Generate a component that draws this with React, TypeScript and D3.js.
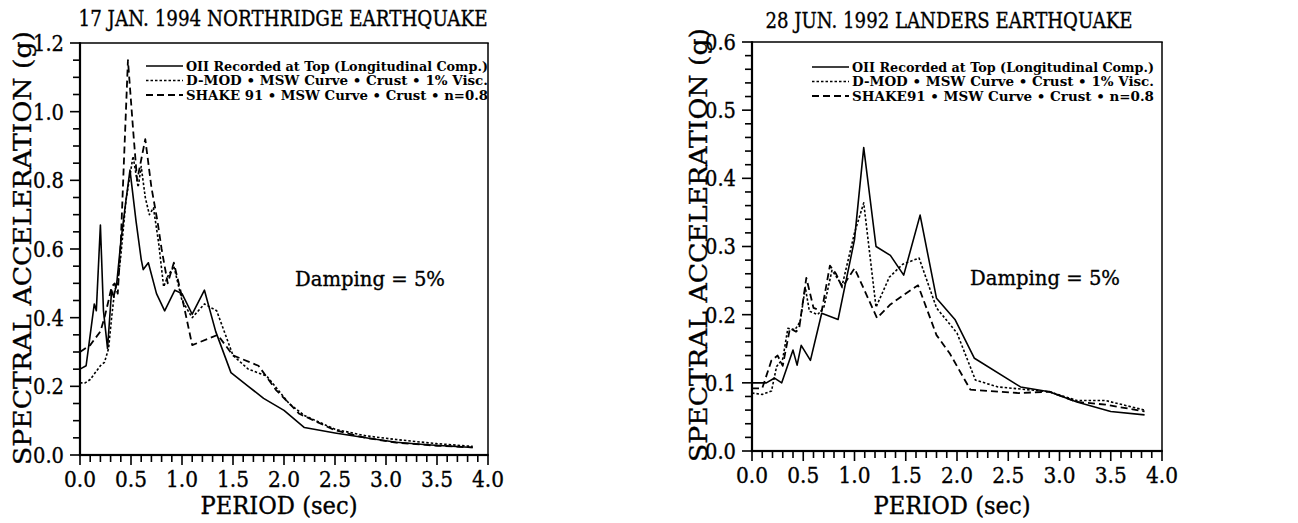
import * as d3 from 'd3';

// 17 Jan 1994 Northridge — period (sec) vs spectral acceleration (g)
const nrRecT = [0, 0.06, 0.1, 0.14, 0.16, 0.2, 0.23, 0.27, 0.31, 0.33, 0.36, 0.4, 0.45, 0.49, 0.55, 0.6, 0.62, 0.67, 0.75, 0.83, 0.93, 1.0, 1.1, 1.22, 1.33, 1.48, 1.65, 1.8, 2.0, 2.2, 2.5, 2.8, 3.1, 3.4, 3.85];
const nrRecSa = [0.25, 0.26, 0.35, 0.44, 0.42, 0.67, 0.42, 0.31, 0.48, 0.46, 0.5, 0.62, 0.74, 0.83, 0.68, 0.57, 0.54, 0.56, 0.47, 0.42, 0.48, 0.47, 0.41, 0.48, 0.36, 0.24, 0.2, 0.165, 0.13, 0.08, 0.064, 0.05, 0.037, 0.03, 0.022];

const nrDmodT = [0, 0.05, 0.1, 0.15, 0.2, 0.24, 0.28, 0.31, 0.34, 0.37, 0.4, 0.45, 0.52, 0.57, 0.6, 0.64, 0.68, 0.72, 0.77, 0.82, 0.86, 0.92, 1.0, 1.1, 1.22, 1.34, 1.5, 1.65, 1.83, 2.05, 2.2, 2.5, 2.8, 3.1, 3.5, 3.85];
const nrDmodSa = [0.21, 0.21, 0.22, 0.24, 0.26, 0.27, 0.31, 0.4, 0.48, 0.5, 0.58, 0.74, 0.87, 0.78, 0.84, 0.75, 0.7, 0.72, 0.62, 0.49, 0.52, 0.55, 0.45, 0.4, 0.44, 0.42, 0.29, 0.25, 0.23, 0.15, 0.115, 0.075, 0.056, 0.045, 0.033, 0.025];

const nrShakeT = [0, 0.05, 0.1, 0.15, 0.2, 0.24, 0.28, 0.31, 0.34, 0.37, 0.4, 0.43, 0.47, 0.52, 0.56, 0.6, 0.64, 0.7, 0.76, 0.8, 0.86, 0.92, 1.0, 1.1, 1.35, 1.5, 1.75, 1.92, 2.15, 2.5, 2.8, 3.1, 3.5, 3.85];
const nrShakeSa = [0.3, 0.31, 0.32, 0.34, 0.36, 0.4, 0.45, 0.49, 0.5, 0.47, 0.62, 0.85, 1.15, 0.95, 0.8, 0.86, 0.92, 0.78, 0.68, 0.6, 0.5, 0.56, 0.46, 0.32, 0.35, 0.29, 0.26, 0.19, 0.12, 0.072, 0.05, 0.036, 0.027, 0.022];

// 28 Jun 1992 Landers
const ldRecT = [0, 0.14, 0.22, 0.29, 0.4, 0.44, 0.48, 0.57, 0.68, 0.84, 1.0, 1.09, 1.21, 1.35, 1.48, 1.64, 1.8, 1.98, 2.17, 2.62, 2.9, 3.17, 3.5, 3.83];
const ldRecSa = [0.1, 0.1, 0.107, 0.1, 0.148, 0.126, 0.155, 0.133, 0.202, 0.193, 0.31, 0.445, 0.3, 0.287, 0.258, 0.346, 0.224, 0.193, 0.136, 0.094, 0.087, 0.072, 0.058, 0.053];

const ldDmodT = [0, 0.1, 0.19, 0.24, 0.3, 0.35, 0.42, 0.47, 0.52, 0.56, 0.64, 0.7, 0.78, 0.88, 1.0, 1.09, 1.21, 1.34, 1.47, 1.63, 1.8, 2.0, 2.18, 2.4, 2.9, 3.17, 3.45, 3.83];
const ldDmodSa = [0.085, 0.083, 0.088, 0.124, 0.135, 0.18, 0.178, 0.19, 0.24, 0.205, 0.2, 0.21, 0.265, 0.243, 0.32, 0.364, 0.211, 0.255, 0.274, 0.283, 0.21, 0.173, 0.104, 0.094, 0.087, 0.074, 0.074, 0.06];

const ldShakeT = [0, 0.1, 0.19, 0.25, 0.3, 0.37, 0.43, 0.46, 0.53, 0.6, 0.68, 0.76, 0.82, 0.88, 1.0, 1.22, 1.35, 1.49, 1.62, 1.8, 1.93, 2.13, 2.6, 2.9, 3.17, 3.45, 3.83];
const ldShakeSa = [0.092, 0.092, 0.133, 0.14, 0.125, 0.18, 0.175, 0.18, 0.254, 0.21, 0.205, 0.272, 0.26, 0.24, 0.268, 0.195, 0.215, 0.23, 0.243, 0.17, 0.143, 0.09, 0.085, 0.087, 0.072, 0.068, 0.058];

const xTicks = [0, 0.5, 1.0, 1.5, 2.0, 2.5, 3.0, 3.5, 4.0];
const nrYTicks = [0, 0.2, 0.4, 0.6, 0.8, 1.0, 1.2];
const ldYTicks = [0, 0.1, 0.2, 0.3, 0.4, 0.5, 0.6];

const nrLegend = [
  'OII Recorded at Top (Longitudinal Comp.)',
  'D-MOD \u2022 MSW Curve \u2022 Crust \u2022 1% Visc.',
  'SHAKE 91 \u2022 MSW Curve \u2022 Crust \u2022 n=0.8',
];
const ldLegend = [
  'OII Recorded at Top (Longitudinal Comp.)',
  'D-MOD \u2022 MSW Curve \u2022 Crust \u2022 1% Visc.',
  'SHAKE91 \u2022 MSW Curve \u2022 Crust \u2022 n=0.8',
];

const FONT = '"DejaVu Serif", "Liberation Serif", serif';
const dashes = ['none', '2.5,2', '7,4'];
const widths = [1.6, 1.6, 1.8];

type Panel = {
  title: string;
  titleX: number;
  titleY: number;
  titleLen: number;
  x0: number;
  x1: number;
  yTop: number;
  yBot: number;
  yMax: number;
  yTicks: number[];
  yMinor: number;
  ylabelX: number;
  ylabelY: number;
  legend: string[];
  legX: number;
  legY: number;
  dampX: number;
  dampY: number;
  series: { t: number[]; sa: number[] }[];
};

const panels: Panel[] = [
  {
    title: '17 JAN. 1994 NORTHRIDGE EARTHQUAKE',
    titleX: 283, titleY: 26, titleLen: 409,
    x0: 80, x1: 488, yTop: 43, yBot: 455, yMax: 1.2,
    yTicks: nrYTicks, yMinor: 0.05,
    ylabelX: 31, ylabelY: 248,
    legend: nrLegend, legX: 146, legY: 66,
    dampX: 295, dampY: 286,
    series: [
      { t: nrRecT, sa: nrRecSa },
      { t: nrDmodT, sa: nrDmodSa },
      { t: nrShakeT, sa: nrShakeSa },
    ],
  },
  {
    title: '28 JUN. 1992 LANDERS EARTHQUAKE',
    titleX: 949, titleY: 28, titleLen: 367,
    x0: 752, x1: 1162, yTop: 42, yBot: 451, yMax: 0.6,
    yTicks: ldYTicks, yMinor: 0.02,
    ylabelX: 707, ylabelY: 245,
    legend: ldLegend, legX: 812, legY: 67,
    dampX: 970, dampY: 285,
    series: [
      { t: ldRecT, sa: ldRecSa },
      { t: ldDmodT, sa: ldDmodSa },
      { t: ldShakeT, sa: ldShakeSa },
    ],
  },
];

// a little pen stroke on text, plotter style
const ink = { stroke: '#000', strokeWidth: 0.35 };

function Chart({ p }: { p: Panel }) {
  const x = d3.scaleLinear().domain([0, 4]).range([p.x0, p.x1]);
  const y = d3.scaleLinear().domain([0, p.yMax]).range([p.yBot, p.yTop]);
  const line = d3.line<[number, number]>().x((d) => x(d[0])).y((d) => y(d[1]));

  const xMinor = d3.range(0, 41).map((i) => i / 10);
  const nMinor = Math.round(p.yMax / p.yMinor);
  const yMinor = d3.range(0, nMinor + 1).map((i) => i * p.yMinor);
  const isMajorY = (v: number) => p.yTicks.some((t) => Math.abs(t - v) < 1e-6);

  return (
    <g fontFamily={FONT}>
      <text x={p.titleX} y={p.titleY} textAnchor="middle" fontSize={22} {...ink}
        textLength={p.titleLen} lengthAdjust="spacingAndGlyphs">{p.title}</text>

      {/* frame */}
      <rect x={p.x0} y={p.yTop - 0.75} width={p.x1 - p.x0 + 0.75} height={1.5} fill="#000" />
      <rect x={p.x1 - 0.75} y={p.yTop} width={1.5} height={p.yBot - p.yTop} fill="#000" />
      <rect x={p.x0 - 1.1} y={p.yTop - 0.75} width={2.2} height={p.yBot - p.yTop + 1.85} fill="#000" />
      <rect x={p.x0 - 1.1} y={p.yBot - 1.1} width={p.x1 - p.x0 + 1.85} height={2.2} fill="#000" />

      {xMinor.map((d, i) => (
        <rect key={'xt' + i} x={x(d) - 0.8} y={p.yBot} width={1.6}
          height={i % 5 === 0 ? 10 : 7} fill="#000" />
      ))}
      {yMinor.map((d, i) => {
        const len = isMajorY(d) ? 10 : 7;
        return <rect key={'yt' + i} x={p.x0 - len} y={y(d) - 0.8} width={len} height={1.6} fill="#000" />;
      })}

      {xTicks.map((d) => (
        <text key={'xl' + d} x={x(d)} y={p.yBot + 32} textAnchor="middle" fontSize={22} {...ink}
          textLength={32} lengthAdjust="spacingAndGlyphs">
          {d.toFixed(1)}
        </text>
      ))}
      {p.yTicks.map((d) => (
        <text key={'yl' + d} x={p.x0 - 16} y={y(d)} dy="0.36em" textAnchor="end" fontSize={22} {...ink}
          textLength={31} lengthAdjust="spacingAndGlyphs">
          {d.toFixed(1)}
        </text>
      ))}

      <text x={(p.x0 + p.x1) / 2 - 5} y={514} textAnchor="middle" fontSize={24} {...ink}
        textLength={157} lengthAdjust="spacingAndGlyphs">PERIOD (sec)</text>
      <text transform={`translate(${p.ylabelX},${p.ylabelY}) rotate(-90)`} textAnchor="middle"
        fontSize={25} textLength={434} lengthAdjust="spacingAndGlyphs" {...ink}>
        SPECTRAL ACCELERATION (g)
      </text>

      {p.series.map((s, i) => (
        <path key={'s' + i}
          d={line(s.t.map((t, k) => [t, s.sa[k]] as [number, number])) || ''}
          fill="none" stroke="#000" strokeWidth={widths[i]}
          strokeDasharray={dashes[i]} strokeLinejoin="round" />
      ))}

      {p.legend.map((label, i) => {
        const ly = p.legY + i * 14.5;
        return (
          <g key={'lg' + i}>
            <path d={`M${p.legX},${ly}H${p.legX + 37}`} stroke="#000"
              strokeWidth={widths[i]} strokeDasharray={dashes[i]} />
            <text x={p.legX + 40} y={ly + 4.5} fontSize={13} fontWeight="bold"
              textLength={302} lengthAdjust="spacingAndGlyphs">{label}</text>
          </g>
        );
      })}

      <text x={p.dampX} y={p.dampY} fontSize={21} textLength={150} {...ink}
        lengthAdjust="spacingAndGlyphs">Damping = 5%</text>
    </g>
  );
}

export default function App() {
  return (
    <svg width={1298} height={523} style={{ position: 'absolute', left: 0, top: 0 }}>
      <rect width={1298} height={523} fill="white" />
      {panels.map((p) => (
        <Chart key={p.title} p={p} />
      ))}
    </svg>
  );
}
